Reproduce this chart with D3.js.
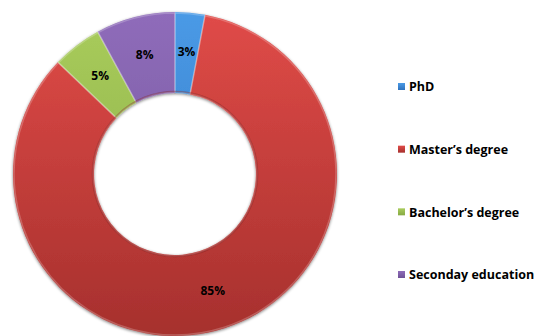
<!DOCTYPE html>
<html>
<head>
<meta charset="utf-8">
<script src="https://cdn.jsdelivr.net/npm/d3@7"></script>
<style>
  html, body { margin: 0; padding: 0; background: #fff; }
  svg { display: block; }
  text { font-family: "Open Sans", Lato, sans-serif; font-weight: bold; fill: #000; }
</style>
</head>
<body>
<svg id="chart" width="535" height="336"></svg>
<script>
// Education levels, share of respondents (%)
const categories = ["PhD", "Master\u2019s degree", "Bachelor\u2019s degree", "Seconday education"];
const values = [3, 85, 5, 8];
const labels = ["3%", "85%", "5%", "8%"];
const colorsTop = ["#4a9ae6", "#e04b48", "#a9cc5c", "#8f6cba"];
const colorsBottom = ["#2f72bd", "#a6302d", "#86a943", "#6e5296"];

const svg = d3.select("#chart");
const cx = 175, cy = 174, outerR = 162, innerR = 81;

const defs = svg.append("defs");
categories.forEach((c, i) => {
  const g = defs.append("linearGradient")
    .attr("id", "grad" + i)
    .attr("gradientUnits", "userSpaceOnUse")
    .attr("x1", 0).attr("y1", -outerR)
    .attr("x2", 0).attr("y2", outerR);
  g.append("stop").attr("offset", "0%").attr("stop-color", colorsTop[i]);
  g.append("stop").attr("offset", "100%").attr("stop-color", colorsBottom[i]);
  const lg = defs.append("linearGradient")
    .attr("id", "lgrad" + i)
    .attr("x1", 0).attr("y1", 0).attr("x2", 0).attr("y2", 1);
  lg.append("stop").attr("offset", "0%").attr("stop-color", colorsTop[i]);
  lg.append("stop").attr("offset", "100%").attr("stop-color", colorsBottom[i]);
});
const sh = defs.append("filter").attr("id", "shadow")
  .attr("x", "-10%").attr("y", "-10%").attr("width", "120%").attr("height", "120%");
sh.append("feGaussianBlur").attr("in", "SourceAlpha").attr("stdDeviation", 1.5).attr("result", "b");
sh.append("feOffset").attr("in", "b").attr("dx", 0).attr("dy", 1).attr("result", "o");
sh.append("feComponentTransfer").attr("in", "o").attr("result", "o2")
  .append("feFuncA").attr("type", "linear").attr("slope", 0.5);
const m = sh.append("feMerge");
m.append("feMergeNode").attr("in", "o2");
m.append("feMergeNode").attr("in", "SourceGraphic");

const pie = d3.pie().sort(null).value(d => d);
const arcs = pie(values);
const arc = d3.arc().innerRadius(innerR).outerRadius(outerR);
const labelArc = d3.arc().innerRadius(outerR * 0.76).outerRadius(outerR * 0.76);

const g = svg.append("g").attr("transform", `translate(${cx},${cy})`);

g.append("g").attr("filter", "url(#shadow)")
  .selectAll("path")
  .data(arcs)
  .join("path")
  .attr("d", arc)
  .attr("fill", (d, i) => `url(#grad${i})`);

// soft bevel highlight along slice edges
g.append("g").selectAll("path")
  .data(arcs)
  .join("path")
  .attr("d", d3.arc().innerRadius(innerR + 1).outerRadius(outerR - 1))
  .attr("fill", "none")
  .attr("stroke", "rgba(255,255,255,0.22)")
  .attr("stroke-width", 1.5);

// inner hole shading
g.append("circle")
  .attr("r", innerR + 1.5)
  .attr("fill", "none")
  .attr("stroke", "rgba(120,20,20,0.35)")
  .attr("stroke-width", 1.5);

g.append("g").selectAll("text")
  .data(arcs)
  .join("text")
  .attr("transform", d => {
    const [x, y] = labelArc.centroid(d);
    return `translate(${x},${y})`;
  })
  .attr("text-anchor", "middle")
  .attr("dy", "0.35em")
  .attr("font-size", 12)
  .text((d, i) => labels[i]);

// legend
const legendY = d3.scalePoint().domain(categories).range([87, 275]);
const lg = svg.append("g");
const item = lg.selectAll("g").data(categories).join("g")
  .attr("transform", d => `translate(398,${legendY(d)})`);
item.append("rect")
  .attr("x", 0).attr("y", -4).attr("width", 7).attr("height", 7)
  .attr("fill", (d, i) => `url(#lgrad${i})`);
item.append("text")
  .attr("x", 11).attr("dy", "0.35em")
  .attr("font-size", 12.5)
  .text(d => d);
</script>
</body>
</html>
